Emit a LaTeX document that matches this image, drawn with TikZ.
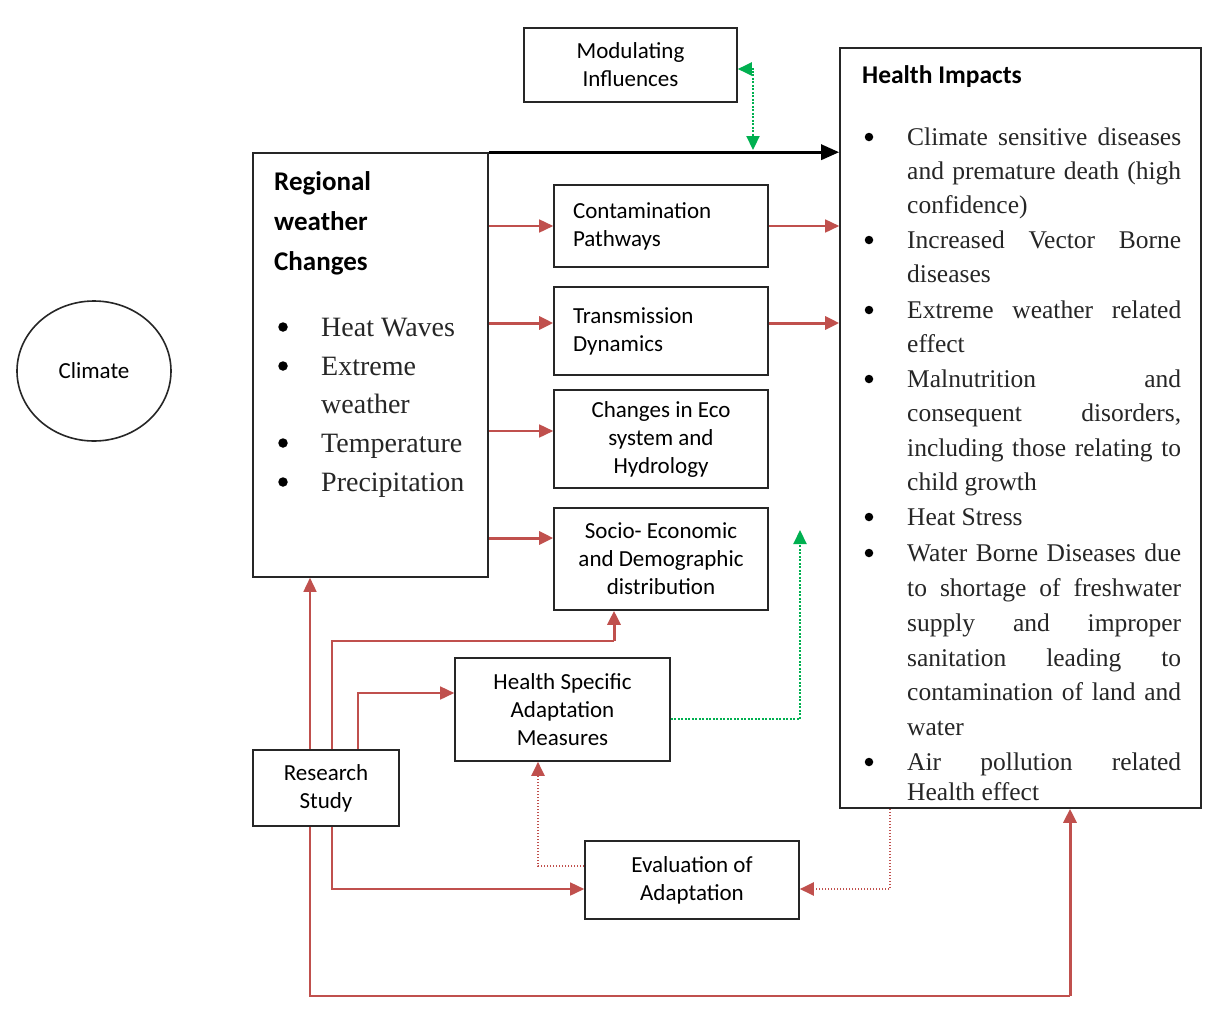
\documentclass[tikz,border=0pt]{standalone}
\usepackage{fontspec}
\setmainfont{Liberation Serif}
\newfontfamily\calf{Carlito}
\usetikzlibrary{arrows.meta,shapes.geometric}
\definecolor{rd}{RGB}{192,80,77}
\definecolor{gr}{RGB}{0,176,80}
\newcommand\hjust[2]{\node[htext,anchor=base west] (hl#1) at (907,#1) {\makebox[274pt][s]{#2}};}
\newcommand\hleft[2]{\node[htext,anchor=base west] (hl#1) at (907,#1) {#2};}
\newcommand\hbul[1]{\node[dot,minimum size=8.5pt] (hb#1) at (869,#1-8) {};}
\newcommand\rbul[2]{\node[dot,minimum size=9.5pt] (rb#1) at (283,#1-9) {};\node[rtext,anchor=base west] (rl#1) at (321,#1) {#2};}
\newcommand\rline[2]{\node[rtext,anchor=base west] (rl#1) at (321,#1) {#2};}
\begin{document}
\begin{tikzpicture}[x=1pt,y=-1pt,
  >={Triangle[length=14pt,width=13pt]},
  box/.style={draw=black!85,line width=1.6pt,inner sep=0pt,font=\calf\fontsize{23}{28}\selectfont,align=center},
  dot/.style={circle,fill=black,inner sep=0pt},
  htext/.style={inner sep=0pt,font=\fontsize{25.5}{30}\selectfont,text=black!85},
  rtext/.style={inner sep=0pt,font=\fontsize{28}{30}\selectfont,text=black!85},
  ttext/.style={inner sep=0pt,font=\calf\bfseries\fontsize{27}{30}\selectfont,text=black},
  rthin/.style={draw=rd,line width=1.6pt,->},
  rthick/.style={draw=rd,line width=3pt,->},
  rplain/.style={draw=rd,line width=1.6pt},
  rdot/.style={draw=rd,line width=2.2pt,dash pattern=on 1.5pt off 1.5pt,->},
  gdot/.style={draw=gr,line width=2.2pt,dash pattern=on 2pt off 1.5pt},
]
\useasboundingbox (0,0) rectangle (1211,1010);
\fill[white] (0,0) rectangle (1211,1010);

% helper coordinates
\coordinate (x310) at (310,0);
\coordinate (x332) at (332,0);
\coordinate (x358) at (358,0);
\coordinate (x538) at (538,0);
\coordinate (x890) at (890,0);
\coordinate (g69) at (0,69);
\coordinate (c323) at (0,323);
\coordinate (c431) at (0,431);
\coordinate (c538) at (0,538);
\coordinate (c693) at (0,693);
\coordinate (c719) at (0,719);
\coordinate (c866) at (0,866);
\coordinate (c889) at (0,889);
\coordinate (bj) at (753,150);
\coordinate (k1) at (614,641);
\coordinate (k2) at (1070,996);
\coordinate (gend) at (800,530);

% nodes
\node[box,ellipse,minimum width=154pt,minimum height=140pt] (clim) at (94,371) {Climate};
\node[box,minimum width=213pt,minimum height=74pt] (mod) at (630.5,65) {Modulating\\Influences};
\node[box,minimum width=361pt,minimum height=760pt] (health) at (1020.5,428) {};
\node[box,minimum width=235pt,minimum height=424pt] (reg) at (370.5,365) {};
\node[box,minimum width=214pt,minimum height=82pt,text width=176pt,align=left] (cont) at (661,226) {Contamination\\Pathways};
\node[box,minimum width=214pt,minimum height=88pt,text width=176pt,align=left] (trans) at (661,331) {\raisebox{5pt}{\parbox{176pt}{Transmission\\Dynamics}}};
\node[box,minimum width=214pt,minimum height=98pt] (eco) at (661,439) {Changes in Eco\\system and\\Hydrology};
\node[box,minimum width=214pt,minimum height=102pt] (socio) at (661,559) {Socio- Economic\\and Demographic\\distribution};
\node[box,minimum width=215pt,minimum height=103pt] (hsam) at (562.5,709.5) {Health Specific\\Adaptation\\Measures};
\node[box,minimum width=146pt,minimum height=76pt] (rs) at (326,788) {Research\\Study};
\node[box,minimum width=214pt,minimum height=78pt] (eval) at (692,880) {Evaluation of\\Adaptation};

% regional text
\node[ttext,anchor=base west] (rt1) at (274,190) {Regional};
\node[ttext,anchor=base west] (rt2) at (274,230) {weather};
\node[ttext,anchor=base west] (rt3) at (274,270) {Changes};
\rbul{336}{Heat Waves}
\rbul{375}{Extreme}
\rline{413}{weather}
\rbul{452}{Temperature}
\rbul{491}{Precipitation}

% health text
\node[ttext,font=\calf\bfseries\fontsize{25.5}{28}\selectfont,anchor=base west] (ht) at (862,83) {Health Impacts};
\hbul{145}\hjust{145}{Climate sensitive diseases}
\hjust{179}{and premature death (high}
\hleft{213}{confidence)}
\hbul{248}\hjust{248}{Increased Vector Borne}
\hleft{282}{diseases}
\hbul{318}\hjust{318}{Extreme weather related}
\hleft{352}{effect}
\hbul{387}\hjust{387}{Malnutrition and}
\hjust{421}{consequent disorders,}
\hjust{456}{including those relating to}
\hleft{490}{child growth}
\hbul{525}\hleft{525}{Heat Stress}
\hbul{561}\hjust{561}{Water Borne Diseases due}
\hjust{596}{to shortage of freshwater}
\hjust{631}{supply and improper}
\hjust{666}{sanitation leading to}
\hjust{700}{contamination of land and}
\hleft{735}{water}
\hbul{770}\hjust{770}{Air pollution related}
\hleft{800}{Health effect}

% connectors
\draw[black,line width=3.2pt,-{Triangle[length=18pt,width=15pt]}] (reg.north east) -- (health.west |- reg.north);
\draw[gdot,<->] (mod.east |- g69) -| (bj);
\draw[rthin] (reg.east |- cont.west) -- (cont.west);
\draw[rthick] (reg.east |- c323) -- (trans.west |- c323);
\draw[rthin] (reg.east |- c431) -- (eco.west |- c431);
\draw[rthick] (reg.east |- c538) -- (socio.west |- c538);
\draw[rthin] (cont.east) -- (health.west |- cont.east);
\draw[rthick] (trans.east |- c323) -- (health.west |- c323);
\draw[rthin] (rs.north -| x310) -- (reg.south -| x310);
\draw[rplain] (rs.north -| x332) |- (k1);
\draw[rthick] (k1) -- (socio.south -| k1);
\draw[rthin] (rs.north -| x358) |- (hsam.west |- c693);
\draw[rthin] (rs.south -| x332) |- (eval.west |- c889);
\draw[rplain] (rs.south -| x310) |- (k2);
\draw[rthick] (k2) -- (health.south -| k2);
\draw[rdot] (eval.west |- c866) -| (hsam.south -| x538);
\draw[rdot] (health.south -| x890) |- (eval.east |- c889);
\draw[gdot,->] (hsam.east |- c719) -| (gend);
\end{tikzpicture}
\end{document}
